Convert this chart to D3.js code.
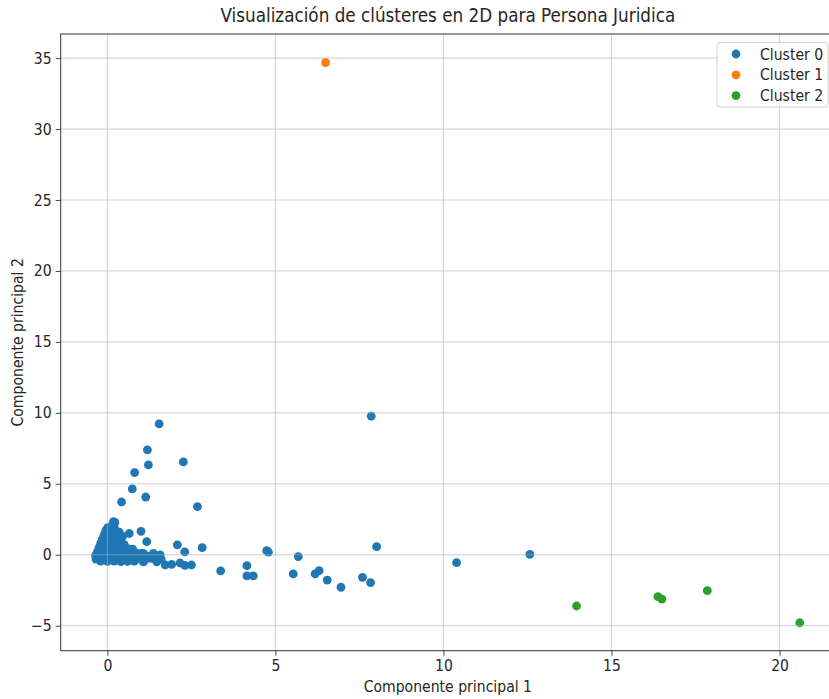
<!DOCTYPE html>
<html>
<head>
<meta charset="utf-8">
<script src="https://cdn.jsdelivr.net/npm/d3@7"></script>
<style>
  html, body { margin: 0; padding: 0; background: #fff; }
  svg { display: block; }
  text { font-family: "DejaVu Sans Condensed", "DejaVu Sans", sans-serif; fill: #262626; }
</style>
</head>
<body>
<svg id="chart" width="829" height="699"></svg>
<script>
// Cluster 0: dense core near the origin plus the scattered tail
const cluster0 = [
  // core
  [0.18, 2.33], [0.22, 2.28],
  [0.01, 1.91], [0.12, 2.0], [0.2, 1.95],
  [-0.05, 1.7], [0.1, 1.72], [0.25, 1.68], [0.35, 1.6],
  [-0.1, 1.4], [0.05, 1.42], [0.15, 1.38], [0.3, 1.35], [0.45, 1.3],
  [-0.15, 1.1], [0.0, 1.12], [0.1, 1.08], [0.25, 1.1], [0.4, 1.05],
  [-0.2, 0.8], [-0.05, 0.82], [0.1, 0.78], [0.2, 0.8], [0.35, 0.76], [0.5, 0.72],
  [-0.25, 0.5], [-0.1, 0.52], [0.05, 0.48], [0.15, 0.5], [0.3, 0.46], [0.45, 0.5], [0.6, 0.44], [0.75, 0.4],
  [-0.3, 0.2], [-0.15, 0.22], [0.0, 0.18], [0.1, 0.2], [0.25, 0.16], [0.4, 0.2], [0.55, 0.18], [0.7, 0.15], [0.85, 0.12], [1.0, 0.1],
  [-0.35, -0.05], [-0.2, -0.03], [-0.05, -0.06], [0.1, -0.04], [0.25, -0.07], [0.4, -0.05], [0.55, -0.08], [0.7, -0.05], [0.85, -0.06], [1.0, -0.08], [1.2, -0.1], [1.4, -0.12],
  [-0.34, -0.3], [-0.2, -0.32], [-0.05, -0.28], [0.1, -0.3], [0.25, -0.33], [0.4, -0.3], [0.55, -0.32], [0.7, -0.3], [0.85, -0.28], [1.0, -0.3], [1.3, -0.25], [1.6, -0.3],
  [-0.2, -0.45], [0.0, -0.47], [0.2, -0.45], [0.4, -0.48], [0.6, -0.46], [0.8, -0.45], [1.1, -0.42],
  // around the core
  [0.65, 1.5], [1.0, 1.65], [1.17, 0.92], [2.08, 0.7], [2.3, 0.2], [2.82, 0.5],
  [1.07, -0.5], [1.47, -0.5], [1.72, -0.72], [1.91, -0.68], [2.16, -0.58], [2.31, -0.75], [2.5, -0.72],
  [1.07, 0.1], [1.37, 0.1], [1.57, 0.0], [1.5, -0.3], [1.3, -0.2],
  // upper arm
  [1.54, 9.22], [1.19, 7.39], [1.22, 6.33], [2.26, 6.54], [0.81, 5.79], [0.74, 4.64],
  [1.14, 4.07], [0.42, 3.72], [2.68, 3.39],
  // right tail
  [4.74, 0.29], [4.79, 0.18], [8.01, 0.57], [5.68, -0.13], [4.15, -0.77], [4.15, -1.49],
  [4.34, -1.49], [3.37, -1.14], [5.53, -1.35], [6.18, -1.35], [6.3, -1.12], [6.54, -1.78],
  [6.95, -2.29], [7.59, -1.59], [7.83, -1.96], [10.39, -0.56], [12.57, 0.03],
  [7.85, 9.77]
];
const cluster1 = [[6.49, 34.69]];
const cluster2 = [[13.96, -3.61], [16.38, -2.95], [16.5, -3.12], [17.85, -2.53], [20.6, -4.79]];

const seriesNames = ["Cluster 0", "Cluster 1", "Cluster 2"];
const seriesColors = ["#1f77b4", "#ff7f0e", "#2ca02c"];
const xTicks = [0, 5, 10, 15, 20];
const yTicks = [-5, 0, 5, 10, 15, 20, 25, 30, 35];

const titleText = "Visualización de clústeres en 2D para Persona Juridica";
const xLabel = "Componente principal 1";
const yLabel = "Componente principal 2";

const svg = d3.select("#chart");
const plotLeft = 60.7, plotRight = 835, plotTop = 34, plotBottom = 650.7;
const labelSize = 15.6, titleSize = 18.7;

const x = d3.scaleLinear().domain([-1.39, 21.65]).range([plotLeft, plotRight]);
const y = d3.scaleLinear().domain([-6.76, 36.7]).range([plotBottom, plotTop]);

const series = [cluster0, cluster1, cluster2];

// points
const pts = svg.append("g");
series.forEach((data, i) => {
  pts.selectAll(null).data(data).enter().append("circle")
    .attr("cx", d => x(d[0]))
    .attr("cy", d => y(d[1]))
    .attr("r", 4.4)
    .attr("fill", seriesColors[i]);
});

// grid drawn over the markers
const grid = svg.append("g").attr("stroke", "#b0b0b0").attr("stroke-width", 0.8).attr("opacity", 0.75);
grid.selectAll(null).data(xTicks).enter().append("line")
  .attr("x1", d => x(d)).attr("x2", d => x(d)).attr("y1", plotTop).attr("y2", plotBottom);
grid.selectAll(null).data(yTicks).enter().append("line")
  .attr("x1", plotLeft).attr("x2", plotRight).attr("y1", d => y(d)).attr("y2", d => y(d));

// axes
const xAxis = svg.append("g").attr("transform", `translate(0,${plotBottom})`)
  .call(d3.axisBottom(x).tickValues(xTicks).tickSize(5).tickPadding(4).tickFormat(d3.format("d")));
const yAxis = svg.append("g").attr("transform", `translate(${plotLeft},0)`)
  .call(d3.axisLeft(y).tickValues(yTicks).tickSize(5).tickPadding(4).tickFormat(d => d < 0 ? "\u2212" + Math.abs(d) : d));
[xAxis, yAxis].forEach(g => {
  g.select(".domain").remove();
  g.selectAll(".tick line").attr("stroke", "#333").attr("stroke-width", 0.9);
  g.selectAll(".tick text").attr("font-size", labelSize).attr("fill", "#333")
    .style("font-family", '"DejaVu Sans Condensed", "DejaVu Sans", sans-serif');
});

// spines
svg.append("rect").attr("x", plotLeft).attr("y", plotTop).attr("width", plotRight - plotLeft).attr("height", plotBottom - plotTop)
  .attr("fill", "none").attr("stroke", "#333").attr("stroke-width", 1);

// title and axis labels
svg.append("text").attr("x", (plotLeft + plotRight) / 2).attr("y", 22).attr("text-anchor", "middle")
  .attr("font-size", titleSize).text(titleText);
svg.append("text").attr("x", (plotLeft + plotRight) / 2).attr("y", 692).attr("text-anchor", "middle")
  .attr("font-size", labelSize).text(xLabel);
svg.append("text").attr("transform", `translate(23,${(plotTop + plotBottom) / 2}) rotate(-90)`)
  .attr("text-anchor", "middle").attr("font-size", labelSize).text(yLabel);

// legend
const lg = svg.append("g").attr("transform", "translate(717,42.5)");
lg.append("rect").attr("width", 111).attr("height", 64.5).attr("rx", 3)
  .attr("fill", "#fff").attr("fill-opacity", 0.85).attr("stroke", "#d0d0d0").attr("stroke-width", 1);
seriesNames.forEach((name, i) => {
  const row = lg.append("g").attr("transform", `translate(0,${11.5 + i * 20.8})`);
  row.append("circle").attr("cx", 19).attr("cy", 0).attr("r", 4.4).attr("fill", seriesColors[i]);
  row.append("text").attr("x", 43).attr("y", 5.5).attr("font-size", labelSize).text(name);
});
</script>
</body>
</html>
